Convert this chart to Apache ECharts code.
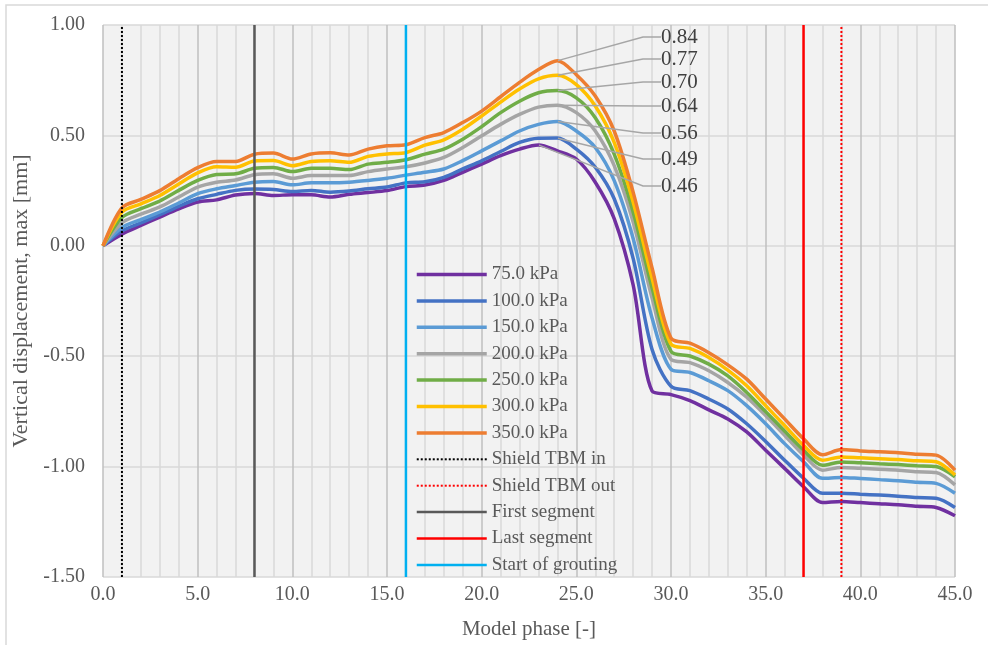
<!DOCTYPE html>
<html>
<head>
<meta charset="utf-8">
<script src="https://cdn.jsdelivr.net/npm/echarts@6/dist/echarts.min.js"></script>
<style>
  html, body { margin: 0; padding: 0; background: #fff; }
  #main { width: 988px; height: 645px; }
</style>
</head>
<body>
<div id="main"></div>
<script>
// model phases (x)
var phases = [0, 1, 2, 3, 4, 5, 6, 7, 8, 9, 10, 11, 12, 13, 14, 15, 16, 17, 18, 19, 20, 21, 22,
  23, 24, 25, 26, 27, 28, 29, 30, 31, 32, 33, 34, 35, 36, 37, 38, 39, 40, 41, 42, 43, 44, 45];

// vertical displacement, max [mm] per pressure
var kpa75 = [0, 0.053, 0.092, 0.130, 0.167, 0.198, 0.208, 0.230, 0.237, 0.228, 0.231, 0.231, 0.221,
  0.233, 0.241, 0.250, 0.268, 0.275, 0.296, 0.333, 0.370, 0.408, 0.438, 0.457, 0.430, 0.393, 0.288,
  0.123, -0.177, -0.658, -0.674, -0.701, -0.743, -0.784, -0.843, -0.926, -1.008, -1.091, -1.163,
  -1.158, -1.163, -1.168, -1.173, -1.180, -1.185, -1.223];
var kpa100 = [0, 0.068, 0.104, 0.141, 0.179, 0.213, 0.233, 0.251, 0.257, 0.255, 0.246, 0.251, 0.243,
  0.248, 0.258, 0.266, 0.285, 0.290, 0.310, 0.348, 0.385, 0.427, 0.468, 0.487, 0.488, 0.438, 0.356,
  0.213, -0.057, -0.470, -0.636, -0.656, -0.694, -0.739, -0.806, -0.886, -0.971, -1.053, -1.121,
  -1.121, -1.125, -1.129, -1.134, -1.140, -1.143, -1.185];
var kpa150 = [0, 0.083, 0.119, 0.153, 0.194, 0.236, 0.258, 0.273, 0.288, 0.291, 0.276, 0.285, 0.285,
  0.288, 0.296, 0.306, 0.320, 0.333, 0.348, 0.386, 0.430, 0.475, 0.520, 0.550, 0.563, 0.520, 0.445,
  0.295, 0.033, -0.327, -0.559, -0.574, -0.611, -0.656, -0.724, -0.806, -0.896, -0.978, -1.053,
  -1.049, -1.054, -1.059, -1.064, -1.071, -1.076, -1.121];
var kpa200 = [0, 0.104, 0.143, 0.176, 0.221, 0.266, 0.288, 0.298, 0.322, 0.326, 0.306, 0.318, 0.318,
  0.318, 0.336, 0.348, 0.358, 0.375, 0.400, 0.445, 0.498, 0.550, 0.595, 0.628, 0.637, 0.603, 0.520,
  0.363, 0.108, -0.237, -0.514, -0.529, -0.566, -0.619, -0.686, -0.769, -0.858, -0.948, -1.016,
  -1.004, -1.008, -1.012, -1.016, -1.023, -1.027, -1.083];
var kpa250 = [0, 0.128, 0.168, 0.203, 0.251, 0.296, 0.323, 0.326, 0.351, 0.355, 0.336, 0.351, 0.351,
  0.345, 0.370, 0.378, 0.390, 0.415, 0.438, 0.483, 0.540, 0.603, 0.655, 0.693, 0.703, 0.670, 0.580,
  0.415, 0.153, -0.190, -0.478, -0.499, -0.536, -0.589, -0.664, -0.751, -0.839, -0.926, -0.994,
  -0.979, -0.983, -0.987, -0.991, -0.996, -1.000, -1.046];
var kpa300 = [0, 0.153, 0.190, 0.228, 0.280, 0.330, 0.358, 0.356, 0.384, 0.386, 0.363, 0.382, 0.385,
  0.378, 0.405, 0.416, 0.422, 0.456, 0.480, 0.528, 0.588, 0.651, 0.710, 0.756, 0.772, 0.730, 0.633,
  0.468, 0.198, -0.147, -0.445, -0.465, -0.506, -0.563, -0.634, -0.724, -0.814, -0.904, -0.971,
  -0.956, -0.960, -0.964, -0.968, -0.974, -0.978, -1.038];
var kpa350 = [0, 0.172, 0.210, 0.250, 0.304, 0.354, 0.382, 0.382, 0.415, 0.420, 0.393, 0.416, 0.421,
  0.411, 0.438, 0.453, 0.458, 0.490, 0.513, 0.558, 0.610, 0.675, 0.740, 0.798, 0.838, 0.775, 0.678,
  0.520, 0.243, -0.100, -0.418, -0.441, -0.484, -0.539, -0.604, -0.694, -0.784, -0.874, -0.946,
  -0.923, -0.929, -0.933, -0.937, -0.944, -0.948, -1.016];

var seriesNames = ['75.0 kPa', '100.0 kPa', '150.0 kPa', '200.0 kPa', '250.0 kPa', '300.0 kPa', '350.0 kPa'];
var seriesValues = [kpa75, kpa100, kpa150, kpa200, kpa250, kpa300, kpa350];
// phase where the max value is labelled
var peakPhase = [23, 24, 24, 24, 24, 24, 24];

// vertical markers
var markerNames = ['Shield TBM in', 'Shield TBM out', 'First segment', 'Last segment', 'Start of grouting'];
var markerPhase = [1, 39, 8, 37, 16];
var markerRange = [-1.5, 1.0];

var colors = ['#7030a0', '#4472c4', '#5b9bd5', '#a5a5a5', '#70ad47', '#ffc000', '#ed7d31'];
var labelY = [186, 159, 133, 106, 82, 59, 37];
var markerStyles = [
  {color: '#000000', width: 2, type: 'dotted'},
  {color: '#ff0000', width: 2, type: 'dotted'},
  {color: '#595959', width: 2.5, type: 'solid'},
  {color: '#ff0000', width: 2.5, type: 'solid'},
  {color: '#00b0f0', width: 2.5, type: 'solid'}
];

var font = 'Liberation Serif';
var series = [];

seriesValues.forEach(function (vals, s) {
  var data = phases.map(function (p, i) {
    if (p === peakPhase[s]) {
      return {
        value: [p, vals[i]],
        symbol: 'circle',
        symbolSize: 1,
        label: {show: true}
      };
    }
    return [p, vals[i]];
  });
  series.push({
    name: seriesNames[s],
    type: 'line',
    data: data,
    smooth: 0.3,
    symbol: 'none',
    showSymbol: true,
    color: colors[s],
    lineStyle: {width: 3.5, color: colors[s]},
    itemStyle: {color: colors[s]},
    label: {
      show: false,
      formatter: function (p) { return p.value[1].toFixed(2); },
      fontFamily: font,
      fontSize: 21,
      color: '#404040'
    },
    labelLine: {
      show: true,
      length2: 18,
      lineStyle: {color: '#a6a6a6', width: 1.5}
    },
    labelLayout: function () {
      return {x: 661, y: labelY[s], align: 'left', verticalAlign: 'middle'};
    },
    z: 2
  });
});

markerNames.forEach(function (name, m) {
  series.push({
    name: name,
    type: 'line',
    data: [[markerPhase[m], markerRange[0]], [markerPhase[m], markerRange[1]]],
    symbol: 'none',
    color: markerStyles[m].color,
    lineStyle: markerStyles[m],
    z: 3
  });
});

var chart = echarts.init(document.getElementById('main'));
chart.setOption({
  animation: false,
  backgroundColor: '#ffffff',
  graphic: [{
    type: 'rect',
    shape: {x: 6, y: 5, width: 1000, height: 700},
    style: {fill: 'none', stroke: '#d9d9d9', lineWidth: 1.5},
    silent: true
  }],
  grid: {
    left: 103, top: 25, right: 33, bottom: 64,
    show: true, backgroundColor: '#f2f2f2', borderWidth: 0
  },
  legend: {
    orient: 'vertical',
    left: 415,
    top: 265,
    padding: 0,
    itemWidth: 70,
    itemHeight: 16,
    itemGap: 7.4,
    itemStyle: {opacity: 0},
    lineStyle: {width: 'inherit'},
    textStyle: {fontFamily: font, fontSize: 19, color: '#595959'},
    data: seriesNames.concat(markerNames)
  },
  xAxis: {
    type: 'value',
    min: 0, max: 45, interval: 5,
    name: 'Model phase [-]',
    nameLocation: 'middle',
    nameGap: 42,
    nameTextStyle: {fontFamily: font, fontSize: 21, color: '#595959'},
    axisLine: {show: false},
    axisTick: {show: false},
    axisLabel: {
      margin: 8, fontFamily: font, fontSize: 20, color: '#595959',
      formatter: function (v) { return v.toFixed(1); }
    },
    splitLine: {show: true, lineStyle: {color: '#bfbfbf', width: 1.5}},
    minorTick: {show: false, splitNumber: 5},
    minorSplitLine: {show: true, lineStyle: {color: '#d9d9d9', width: 1.5}}
  },
  yAxis: {
    type: 'value',
    min: -1.5, max: 1.0, interval: 0.5,
    name: 'Vertical displacement, max [mm]',
    nameLocation: 'middle',
    nameGap: 70,
    nameTextStyle: {fontFamily: font, fontSize: 22, color: '#595959'},
    axisLine: {show: false},
    axisTick: {show: false},
    axisLabel: {
      margin: 18, fontFamily: font, fontSize: 20, color: '#595959',
      formatter: function (v) { return v.toFixed(2); }
    },
    splitLine: {show: true, lineStyle: {color: '#d9d9d9', width: 1.5}}
  },
  series: series
});
</script>
</body>
</html>
